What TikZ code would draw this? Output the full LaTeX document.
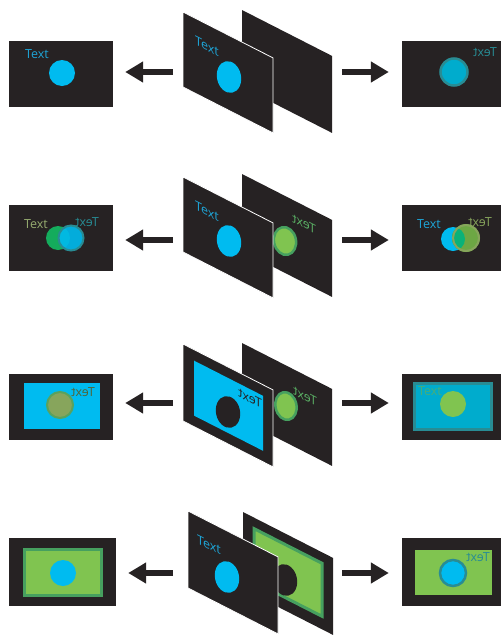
\documentclass[tikz,border=0pt]{standalone}
\usepackage{fontspec}
\setsansfont{Open Sans}
\usetikzlibrary{arrows.meta}

\definecolor{panel}{RGB}{38,34,35}
\definecolor{cyanfill}{RGB}{0,187,240}
\definecolor{cyantext}{RGB}{30,165,215}
\definecolor{tealfill}{RGB}{0,172,205}
\definecolor{tealring}{RGB}{40,140,148}
\definecolor{greenfill}{RGB}{128,196,80}
\definecolor{greenring}{RGB}{70,160,95}
\definecolor{greentext}{RGB}{90,175,100}
\definecolor{olivefill}{RGB}{135,165,92}
\definecolor{olivetext}{RGB}{150,172,112}
\definecolor{emerald}{RGB}{10,178,120}
\definecolor{deepgreen}{RGB}{20,172,92}

\newcommand{\lblfont}{\sffamily\fontsize{12.5}{13}\selectfont}

\begin{document}
\begin{tikzpicture}[x=1pt,y=-1pt,
  screen/.style={fill=panel, inner sep=0pt, minimum width=104pt, minimum height=66pt},
  sheet/.style={fill=panel},
  frontsheet/.style={fill=panel, draw=white, line width=0.8pt},
  bigarrow/.style={draw=panel, line width=6pt, -{Triangle[width=20pt,length=18pt]}},
  word/.style={font=\lblfont, inner sep=0pt},
  mirror/.style={word, xscale=-1},
  ringed/.style={line width=2.5pt},
  lean/.style={rotate around={12:#1}},
]
\clip (0,0) rectangle (501,635);

% side screens
\node[screen] (l1) at (61,74) {};
\node[screen] (l2) at (61,237.5) {};
\node[screen] (l3) at (61,406.5) {};
\node[screen, minimum width=107pt, minimum height=68pt] (l4) at (62.5,572) {};
\node[screen] (r1) at (454,74) {};
\node[screen] (r2) at (454,237.5) {};
\node[screen] (r3) at (454,406.5) {};
\node[screen, minimum height=68pt] (r4) at (454,572) {};

% arrow ends at the middle pair
\coordinate (fw1) at (173,72);  \coordinate (bw1) at (342,72);
\coordinate (fw2) at (173,240); \coordinate (bw2) at (342,240);
\coordinate (fw3) at (173,403); \coordinate (bw3) at (342,403);
\coordinate (fw4) at (173,573); \coordinate (bw4) at (342,573);

\foreach \i in {1,...,4}{
  \draw[bigarrow, shorten >=12pt] (fw\i) -- (fw\i -| l\i.east);
  \draw[bigarrow, shorten >=13pt] (bw\i) -- (bw\i -| r\i.west);
}

%%% row 1
\begin{scope}[shift={(242,10)}, yslant=-0.51]
  \fill[sheet] (0,0) rectangle (90,77);
\end{scope}
\begin{scope}[shift={(183,12)}, yslant=-0.51]
  \filldraw[frontsheet] (0,0) rectangle (90,75);
  \node[word, text=cyantext, transform shape] (ft1) at (24,22) {Text};
\end{scope}
\fill[cyanfill, lean={(229,77)}] (229,77) ellipse (12 and 16);
\node[word, text=cyantext] (lt1) at (37,54) {Text};
\fill[cyanfill] (62,73) circle (13);
\filldraw[fill=tealfill, draw=tealring, ringed] (454,72) circle (13.5);
\node[mirror, text=tealring] (rt1) at (485,52) {Text};

%%% row 2
\begin{scope}[shift={(242,174)}, yslant=-0.51]
  \fill[sheet] (0,0) rectangle (90,77);
  \node[mirror, text=greentext, transform shape] (bt2) at (62,18) {Text};
\end{scope}
\filldraw[fill=greenfill, draw=greenring, ringed, lean={(285,241)}] (285,241) ellipse (11 and 14);
\begin{scope}[shift={(183,177)}, yslant=-0.51]
  \filldraw[frontsheet] (0,0) rectangle (90,75);
  \node[word, text=cyantext, transform shape] (ft2) at (24,22) {Text};
\end{scope}
\fill[cyanfill, lean={(229,241)}] (229,241) ellipse (12 and 16);
\node[word, text=olivetext] (lt2) at (36,224) {Text};
\node[mirror, text=tealring] (lm2) at (87,222) {Text};
\fill[deepgreen] (58,238) circle (12);
\filldraw[fill=cyanfill, draw=tealring, fill opacity=0.9, line width=2pt] (71,238) circle (12.5);
\node[word, text=cyantext] (rt2) at (429,224) {Text};
\node[mirror, text=olivefill] (rm2) at (480,222) {Text};
\fill[cyanfill] (453,239) circle (12);
\fill[greenfill!85!black] (466,238) circle (14);
\begin{scope}
  \clip (466,238) circle (14);
  \fill[emerald] (453,239) circle (12);
\end{scope}
\draw[olivefill, line width=2pt] (466,238) circle (13);

%%% row 3
\begin{scope}[shift={(242,343)}, yslant=-0.51]
  \fill[sheet] (0,0) rectangle (90,77);
  \node[mirror, text=greentext, transform shape] (bt3) at (63,21) {Text};
\end{scope}
\filldraw[fill=greenfill, draw=greenring, ringed, lean={(286,406)}] (286,406) ellipse (10.5 and 14);
\begin{scope}[shift={(183,344)}, yslant=-0.51]
  \filldraw[frontsheet] (0,0) rectangle (90,77);
  \fill[cyanfill] (11,11) rectangle (80,66);
  \node[mirror, text=panel, transform shape] (ft3) at (67,20) {Text};
\end{scope}
\fill[panel, lean={(228,412)}] (228,412) ellipse (12 and 16);
\fill[cyanfill] (24,383) rectangle (100,429);
\filldraw[fill=olivefill, draw=greenring!70!olivefill, line width=2pt] (60,405) circle (13);
\node[mirror, text=olivefill!60!black] (lm3) at (83,392) {Text};
\filldraw[fill=tealfill, draw=tealring, line width=3pt] (414.5,383.5) rectangle (491.5,429.5);
\fill[greenfill] (453,404) circle (13);
\node[word, text=greentext!80!tealfill] (rt3) at (430,391) {Text};

%%% row 4
\begin{scope}[shift={(243,512)}, yslant=-0.51]
  \fill[sheet] (0,0) rectangle (90,77);
  \filldraw[fill=greenfill, draw=greenring, line width=3pt] (11,11) rectangle (79,64);
\end{scope}
\fill[panel, lean={(285,580)}] (285,580) ellipse (12 and 16);
\begin{scope}[shift={(188,511)}, yslant=-0.51]
  \filldraw[frontsheet] (0,0) rectangle (90,77);
  \node[word, text=cyantext, transform shape] (ft4) at (21,23) {Text};
\end{scope}
\fill[cyanfill, lean={(227,577)}] (227,577) ellipse (12 and 16);
\filldraw[fill=greenfill, draw=greenring, line width=3pt] (24.5,549.5) rectangle (101.5,595.5);
\fill[cyanfill] (63,573) circle (13);
\fill[greenfill] (415,550) rectangle (492,595);
\filldraw[fill=cyanfill, draw=tealring, ringed] (453,573) circle (13);
\node[mirror, text=tealring] (rm4) at (478,557) {Text};
\end{tikzpicture}
\end{document}
